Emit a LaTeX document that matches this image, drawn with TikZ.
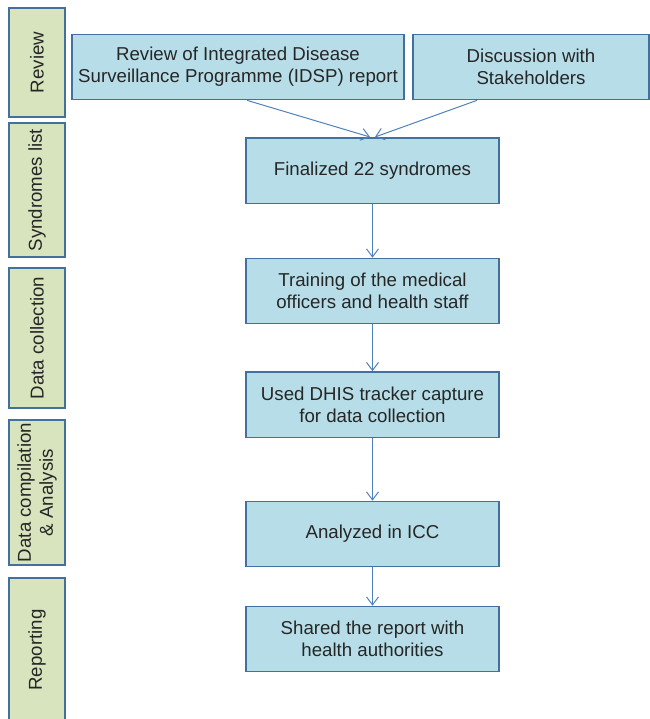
\documentclass[tikz,border=0pt]{standalone}
\usepackage{fontspec}
\setmainfont{Liberation Sans}
\usetikzlibrary{arrows.meta}
\definecolor{boxblue}{HTML}{B7DEE8}
\definecolor{boxgreen}{HTML}{D7E4BD}
\definecolor{edgeblue}{HTML}{41719C}
\definecolor{arrowblue}{HTML}{4F81BD}
\definecolor{textgray}{HTML}{262626}

\begin{document}
\begin{tikzpicture}[x = 0.75pt, y = -0.75pt,
    font = \fontsize{14}{16.5}\selectfont, text = textgray,
    stepbox/.style = {shape = rectangle, draw = edgeblue, line width = 1pt, fill = boxblue,
        align = center, inner sep = 2pt, minimum height = 49pt},
    phase/.style = {shape = rectangle, draw = edgeblue, line width = 1pt, fill = boxgreen,
        align = center, inner sep = 2pt, rotate = 90, minimum height = 42pt},
    flow/.style = {draw = arrowblue, line width = 0.75pt, -{Straight Barb[length = 6pt, width = 9pt]}}]
    \useasboundingbox (0,0) rectangle (650,719);
    % phases on the left
    \node [phase, minimum width = 81.75pt] (Review) at (37,62.5) {Review};
    \node [phase, minimum width = 100.5pt] (Syndromes) at (37,190) {Syndromes list};
    \node [phase, minimum width = 105pt] (Collection) at (37,338) {Data collection};
    \node [phase, minimum width = 108.75pt] (Compilation) at (37,492.5) {Data compilation\\ \& Analysis};
    \node [phase, minimum width = 108pt] (Reporting) at (37,650) {Reporting};
    % steps
    \node [stepbox, minimum width = 249pt] (IDSP) at (238,67) {Review of Integrated Disease\\ Surveillance Programme (IDSP) report};
    \node [stepbox, minimum width = 177pt] (Discuss) at (531,67) {Discussion with\\ Stakeholders};
    \node [stepbox, minimum width = 189.75pt] (Final) at (372.5,170.5) {Finalized 22 syndromes};
    \node [stepbox, minimum width = 189.75pt] (Train) at (372.5,291) {Training of the medical\\ officers and health staff};
    \node [stepbox, minimum width = 189.75pt] (DHIS) at (372.5,404.5) {Used DHIS tracker capture\\ for data collection};
    \node [stepbox, minimum width = 189.75pt] (ICC) at (372.5,534) {Analyzed in ICC};
    \node [stepbox, minimum width = 189.75pt] (Share) at (372.5,639) {Shared the report with\\ health authorities};
    % connectors
    \coordinate (J1) at (370,137);
    \coordinate (J2) at (375,137);
    \draw [flow] (IDSP.south) ++(9,0) -- (J1);
    \draw [flow] (Discuss.south) ++(-54,0) -- (J2);
    \draw [flow] (Final) -- (Train);
    \draw [flow] (Train) -- (DHIS);
    \draw [flow] (DHIS) -- (ICC);
    \draw [flow] (ICC) -- (Share);
\end{tikzpicture}
\end{document}
